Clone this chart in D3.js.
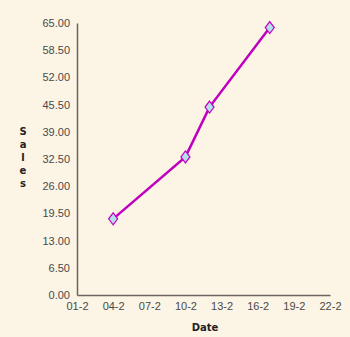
<!DOCTYPE html>
<html>
<head>
<meta charset="utf-8">
<script src="https://cdn.jsdelivr.net/npm/d3@7"></script>
<style>
  body { margin: 0; background: #fcf4e4; }
  svg { display: block; font-family: "DejaVu Sans", sans-serif; }
</style>
</head>
<body>
<script>
const width = 350;
const height = 337;

// February dates (day of month) and sales
const days = [4, 10, 12, 17];
const sales = [18.2, 33.0, 44.9, 63.9];
const yTicks = [0, 6.5, 13, 19.5, 26, 32.5, 39, 45.5, 52, 58.5, 65];
const xTickDays = [1, 4, 7, 10, 13, 16, 19, 22];

const margin = {left: 77, right: 20, top: 23, bottom: 42};

const data = days.map((d, i) => ({date: new Date(2010, 1, d), value: sales[i]}));

const x = d3.scaleTime()
  .domain([new Date(2010, 1, 1), new Date(2010, 1, 22)])
  .range([margin.left, width - margin.right]);

const y = d3.scaleLinear()
  .domain([0, 65])
  .range([height - margin.bottom, margin.top]);

const svg = d3.select("body").append("svg")
  .attr("width", width)
  .attr("height", height);

svg.append("rect").attr("width", width).attr("height", height).attr("fill", "#fcf4e4");

svg.append("g")
  .attr("transform", `translate(${margin.left},0)`)
  .call(d3.axisLeft(y).tickValues(yTicks).tickFormat(d3.format(".2f")).tickSize(0).tickPadding(7));

svg.append("g")
  .attr("transform", `translate(0,${height - margin.bottom})`)
  .call(d3.axisBottom(x)
    .tickValues(xTickDays.map(d => new Date(2010, 1, d)))
    .tickFormat(d3.timeFormat("%d-%-m"))
    .tickSize(0).tickPadding(7));

svg.selectAll(".domain").attr("stroke", "#6b6560").attr("stroke-width", 1.5);
svg.selectAll(".tick text").attr("fill", "#4a4a4a").attr("font-size", 11);

// y title, letters stacked
const title = "Sales".split("");
svg.append("g").selectAll("text")
  .data(title)
  .enter().append("text")
  .attr("x", 23)
  .attr("y", (d, i) => 135 + i * 13)
  .attr("text-anchor", "middle")
  .attr("font-size", 10)
  .attr("font-weight", "bold")
  .attr("fill", "#222")
  .text(d => d);

svg.append("text")
  .attr("x", 205)
  .attr("y", 331)
  .attr("text-anchor", "middle")
  .attr("font-size", 10)
  .attr("font-weight", "bold")
  .attr("fill", "#222")
  .text("Date");

const line = d3.line()
  .x(d => x(d.date))
  .y(d => y(d.value));

svg.append("path")
  .datum(data)
  .attr("d", line)
  .attr("fill", "none")
  .attr("stroke", "#c000c0")
  .attr("stroke-width", 2.5);

svg.append("g").selectAll("path")
  .data(data)
  .enter().append("path")
  .attr("transform", d => `translate(${x(d.date)},${y(d.value)})`)
  .attr("d", "M0,-6L4.5,0L0,6L-4.5,0Z")
  .attr("fill", "#b4e0ec")
  .attr("stroke", "#c000c0")
  .attr("stroke-width", 1.2);
</script>
</body>
</html>
